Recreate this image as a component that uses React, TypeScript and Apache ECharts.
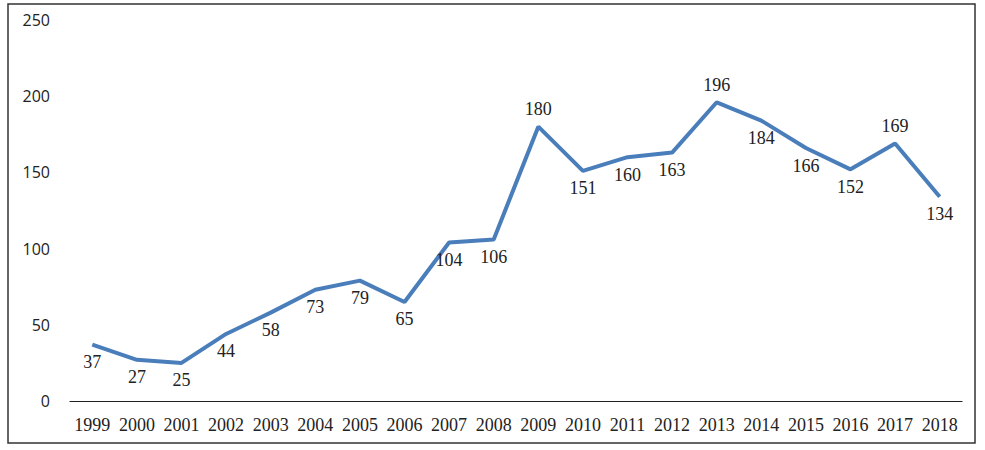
import React, { useEffect, useRef } from "react";
import * as echarts from "echarts";

const years = ["1999","2000","2001","2002","2003","2004","2005","2006","2007","2008","2009","2010","2011","2012","2013","2014","2015","2016","2017","2018"];
const values = [37,27,25,44,58,73,79,65,104,106,180,151,160,163,196,184,166,152,169,134];
const labelPlacement = ["bottom","bottom","bottom","bottom","bottom","bottom","bottom","bottom","bottom","bottom","top","bottom","bottom","bottom","top","bottom","bottom","bottom","top","bottom"];
const yTicks = [0, 50, 100, 150, 200, 250];

export default function App() {
  const ref = useRef<HTMLDivElement>(null);
  useEffect(() => {
    if (!ref.current) return;
    const chart = echarts.init(ref.current, null, { renderer: "svg" });
    chart.setOption({
      animation: false,
      backgroundColor: "#ffffff",
      graphic: [
        {
          type: "rect",
          shape: { x: 8, y: 4, width: 967, height: 439 },
          style: { fill: "none", stroke: "#333", lineWidth: 1.5 },
          silent: true,
        },
      ],
      grid: { left: 70, right: 23, top: 20, bottom: 49 },
      xAxis: {
        type: "category",
        data: years,
        boundaryGap: true,
        axisLine: { show: true, lineStyle: { color: "#222", width: 1.2 } },
        axisTick: { show: false },
        axisLabel: {
          interval: 0,
          fontFamily: "Liberation Serif, DejaVu Serif, serif",
          fontSize: 18,
          color: "#222",
          margin: 15,
        },
      },
      yAxis: {
        type: "value",
        min: yTicks[0],
        max: yTicks[yTicks.length - 1],
        interval: 50,
        axisLine: { show: false },
        axisTick: { show: false },
        splitLine: { show: false },
        axisLabel: {
          fontFamily: "Open Sans, DejaVu Sans, sans-serif",
          fontSize: 16,
          color: "#222",
          margin: 20,
        },
      },
      series: [
        {
          type: "line",
          data: values.map((v, i) => ({
            value: v,
            label: { position: labelPlacement[i] },
          })),
          symbol: "circle",
          symbolSize: 1,
          showSymbol: true,
          itemStyle: { color: "rgba(0,0,0,0)", borderWidth: 0 },
          lineStyle: { color: "#4A7EBB", width: 4 },
          labelLayout: { hideOverlap: false },
          label: {
            show: true,
            fontFamily: "Liberation Serif, DejaVu Serif, serif",
            fontSize: 18,
            color: "#222",
            distance: 8,
          },
        },
      ],
    });
    return () => chart.dispose();
  }, []);
  return (
    <div
      ref={ref}
      style={{ position: "absolute", left: 0, top: 0, width: 985, height: 450 }}
    />
  );
}
